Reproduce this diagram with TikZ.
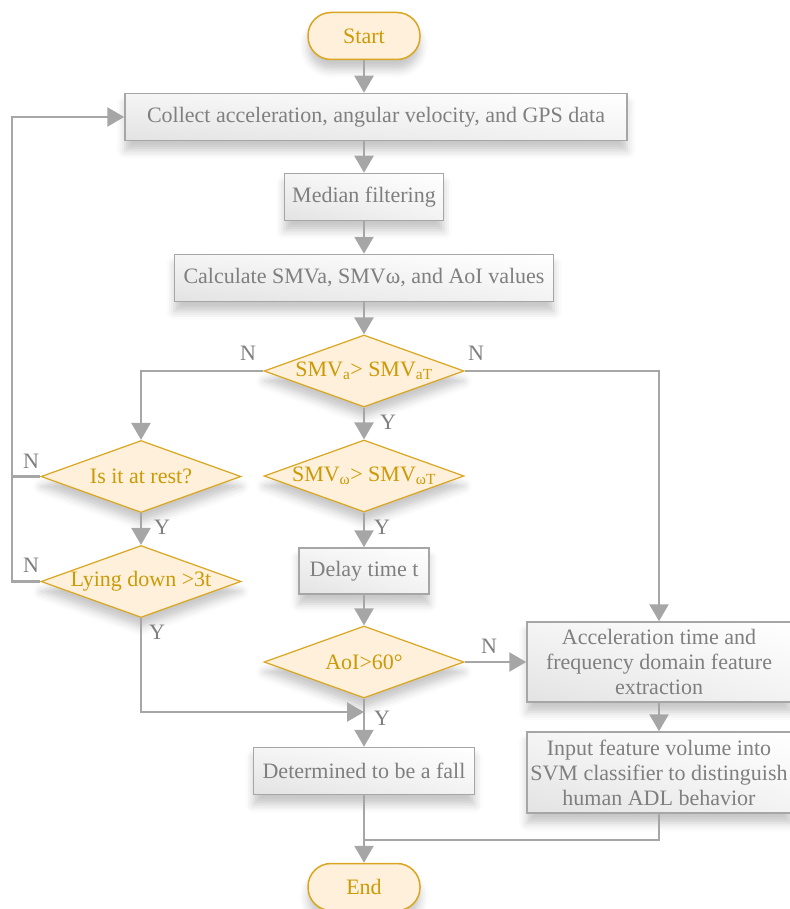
\documentclass[tikz,border=0pt]{standalone}
\usepackage{fontspec}
\setmainfont{Liberation Serif}
\usepackage{tikz,xcolor}
\usetikzlibrary{shapes.geometric,arrows.meta,shadows.blur,shadings}

\definecolor{lineg}{HTML}{A6A6A6}
\definecolor{textg}{HTML}{7F7F7F}
\definecolor{goldl}{HTML}{DAA520}
\definecolor{goldt}{HTML}{CC9A06}
\definecolor{cream}{HTML}{FEF0DA}

\begin{document}
\begin{tikzpicture}[x=1pt,y=-1pt,font=\fontsize{22}{25}\selectfont,
    shad/.style={blur shadow={shadow xshift=0pt,shadow yshift=-10pt,shadow opacity=22,shadow blur radius=8pt}},
    proc/.style={rectangle,draw=lineg,line width=1.5pt,text=textg,inner sep=2pt,shad,
        upper left=gray!8,upper right=white,lower left=gray!22,lower right=gray!10},
    decision/.style={diamond,aspect=2.75,draw=goldl,line width=1.2pt,fill=cream,text=goldt,inner sep=0pt,
        minimum width=200pt,minimum height=72pt,shad},
    terminal/.style={rectangle,rounded corners=23pt,draw=goldl,line width=1.5pt,fill=cream,
        text=goldt,minimum width=112pt,minimum height=47pt,shad},
    line/.style={draw=lineg,line width=2.5pt},
    arr/.style={line,-{Triangle[width=19pt,length=17pt]}},
    lab/.style={text=textg}]
    \useasboundingbox (0,0) rectangle (789,909);

    \node[terminal] (start) at (364,36) {Start};
    \node[proc,minimum width=502pt,minimum height=47pt] (collect) at (376,117) {Collect acceleration, angular velocity, and GPS data};
    \node[proc,minimum width=159pt,minimum height=47pt] (median) at (364,197) {Median filtering};
    \node[proc,minimum width=379pt,minimum height=47pt] (calc) at (364,278) {Calculate SMVa, SMVω, and AoI values};
    \node[decision] (dsmva) at (364,371) {SMV\textsubscript{a}> SMV\textsubscript{aT}};
    \node[decision] (dsmvw) at (364,476) {SMV\textsubscript{ω}> SMV\textsubscript{ωT}};
    \node[decision] (rest) at (141,476.5) {Is it at rest?};
    \node[decision] (lying) at (141,581.5) {Lying down >3t};
    \node[proc,minimum width=130pt,minimum height=46pt] (delay) at (364,571) {Delay time t};
    \node[decision] (aoi) at (364,662) {AoI>60°};
    \node[proc,minimum width=221pt,minimum height=47pt] (fall) at (364,771) {Determined to be a fall};
    \node[proc,minimum width=264pt,minimum height=80pt,align=center] (feat) at (659,662) {Acceleration time and\\frequency domain feature\\extraction};
    \node[proc,minimum width=264pt,minimum height=81pt,align=center] (svm) at (659,772.5) {Input feature volume into\\SVM classifier to distinguish\\human ADL behavior};
    \node[terminal] (end) at (364,887) {End};

    \coordinate (loop) at (12,476.5);
    \coordinate (join) at (364,712);
    \coordinate (merge) at (364,840);

    \draw[arr] (start) -- (start |- collect.north);
    \draw[arr] (collect.south -| median) -- (median);
    \draw[arr] (median) -- (calc);
    \draw[arr] (calc) -- (dsmva);
    \draw[arr] (dsmva.west) -| (rest.north);
    \draw[arr] (dsmva.east) -| (feat.north);
    \draw[arr] (dsmva) -- (dsmvw);
    \draw[arr] (rest) -- (lying);
    \draw[arr] (rest.west) -- (loop) |- (collect.west);
    \draw[line] (lying.west) -| (loop);
    \draw[arr] (dsmvw) -- (delay);
    \draw[arr] (delay) -- (aoi);
    \draw[arr] (aoi.east) -- (feat.west);
    \draw[arr] (aoi) -- (fall);
    \draw[arr] (lying.south) |- (join);
    \draw[arr] (feat) -- (svm);
    \draw[line] (svm.south) |- (merge);
    \draw[arr] (fall) -- (end);

    \node[lab] at (248,353) {N};
    \node[lab] at (476,353) {N};
    \node[lab] at (388,422) {Y};
    \node[lab] at (162,527) {Y};
    \node[lab] at (31,461) {N};
    \node[lab] at (31,565) {N};
    \node[lab] at (382,527) {Y};
    \node[lab] at (489,646) {N};
    \node[lab] at (382,718) {Y};
    \node[lab] at (157,632) {Y};
\end{tikzpicture}
\end{document}
